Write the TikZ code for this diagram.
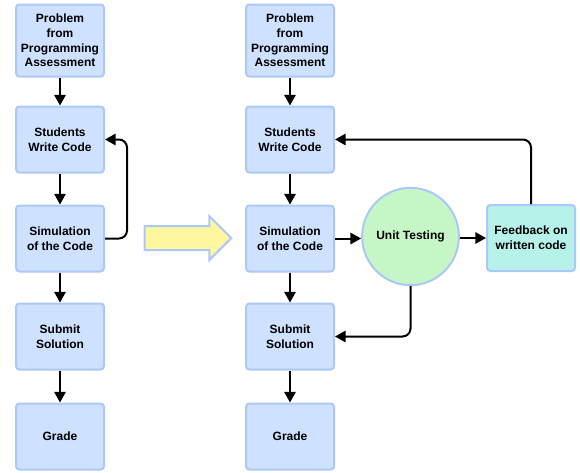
\documentclass[tikz,border=0pt]{standalone}
\usepackage{fontspec}
\setmainfont{Liberation Sans}
\usetikzlibrary{arrows.meta,shapes.geometric,shapes.arrows}

\definecolor{boxfill}{RGB}{206,225,254}
\definecolor{boxline}{RGB}{170,200,248}
\definecolor{testfill}{RGB}{198,246,198}
\definecolor{feedfill}{RGB}{182,242,234}
\definecolor{movefill}{RGB}{255,246,160}

\tikzset{every picture/.style={line width=0.75pt}}
\tikzset{
	stepbox/.style={draw=boxline, fill=boxfill, line width=1.5pt, rounded corners=2.5pt, minimum width=66pt, minimum height=49.5pt, align=center, font=\bfseries\fontsize{9}{11}\selectfont, inner sep=1pt},
	flow/.style={line width=1.5pt, -{Triangle[length=8pt,width=8.5pt]}, rounded corners=6pt}
}

\begin{document}
\begin{tikzpicture}[x=0.75pt,y=0.75pt,yscale=-1,xscale=1]
	%set diagram to the size of the reference
	\useasboundingbox (0,0) rectangle (580,472);
	
	% Left column
	\node [stepbox, minimum height=54pt] (lprob) at (60,40.5) {Problem\\from\\Programming\\Assessment};
	\node [stepbox] (lwrite) at (60,139.5) {Students\\Write Code};
	\node [stepbox] (lsim) at (60,238.5) {Simulation\\of the Code};
	\node [stepbox] (lsub) at (60,336.5) {Submit\\Solution};
	\node [stepbox] (lgrade) at (60,436.5) {Grade};
	
	% Right column
	\node [stepbox, minimum height=54pt] (rprob) at (290,40.5) {Problem\\from\\Programming\\Assessment};
	\node [stepbox] (rwrite) at (290,139.5) {Students\\Write Code};
	\node [stepbox] (rsim) at (290,238.5) {Simulation\\of the Code};
	\node [stepbox] (rsub) at (290,336.5) {Submit\\Solution};
	\node [stepbox] (rgrade) at (290,436.5) {Grade};
	
	%Shape: Ellipse
	\node [ellipse, draw=boxline, fill=testfill, line width=1.5pt, minimum width=67pt, minimum height=73pt, inner sep=0pt, font=\bfseries\fontsize{9}{11}\selectfont] (test) at (410.5,236.5) {Unit Testing};
	%Shape: Rectangle
	\node [stepbox, fill=feedfill] (feed) at (531,238) {Feedback on\\written code};
	
	%Shape: Right Arrow
	\node [single arrow, draw=boxline, fill=movefill, line width=1.5pt, inner xsep=0pt, inner ysep=8.25pt, single arrow head extend=7.5pt, minimum height=65pt] (move) at (182,238) {};
	
	%Straight Lines: left column
	\draw [flow] (lprob) -- (lwrite);
	\draw [flow] (lwrite) -- (lsim);
	\draw [flow] (lsim) -- (lsub);
	\draw [flow] (lsub) -- (lgrade);
	\draw [flow] (lsim.east) -| (127,190) |- (lwrite.east);
	
	%Straight Lines: right column
	\draw [flow] (rprob) -- (rwrite);
	\draw [flow] (rwrite) -- (rsim);
	\draw [flow] (rsim) -- (rsub);
	\draw [flow] (rsub) -- (rgrade);
	\draw [flow] (rsim.east) -- (test.west |- rsim.east);
	\draw [flow] (test.east |- feed.west) -- (feed.west);
	\draw [flow] (test.south) |- (rsub.east);
	\draw [flow] (feed.north) |- (rwrite.east);
	
\end{tikzpicture}
\end{document}
